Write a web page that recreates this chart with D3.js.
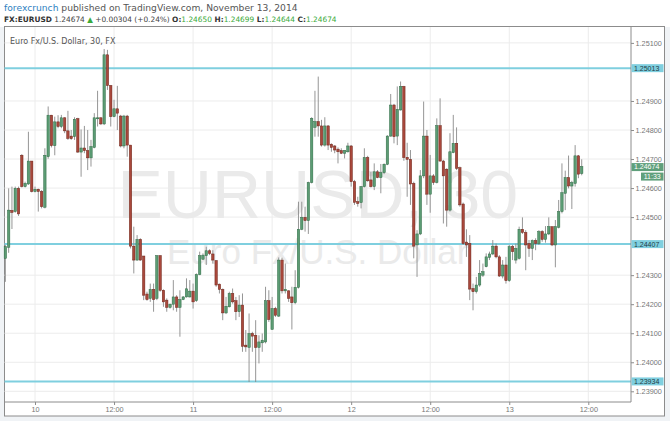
<!DOCTYPE html>
<html><head><meta charset="utf-8">
<script src="https://cdn.jsdelivr.net/npm/d3@7"></script>
<style>html,body{margin:0;padding:0;background:#fff;} svg{display:block;}</style>
</head><body>
<svg id="c" width="670" height="421"></svg>
<script>
// ---- data (30-min candles, EUR/USD, from 2014-11-09 19:30 UTC) ----
const startTime = "2014-11-09T19:30:00Z";
const open = [
1.24358,1.24396,1.24523,1.24519,1.24599,1.24713,1.24605,1.24614,1.24693,1.24588,
1.24596,1.24588,1.24534,1.24708,1.24851,1.24746,1.24828,1.24812,1.24842,1.24797,
1.24779,1.24777,1.24839,1.24724,1.24738,1.24729,1.24704,1.24740,1.24839,1.24842,
1.24821,1.25059,1.24953,1.24846,1.24873,1.24848,1.24745,1.24848,1.24748,1.24400,
1.24352,1.24423,1.24366,1.24235,1.24220,1.24251,1.24220,1.24367,1.24248,1.24214,
1.24189,1.24200,1.24225,1.24189,1.24216,1.24225,1.24225,1.24245,1.24212,1.24302,
1.24355,1.24367,1.24384,1.24373,1.24350,1.24269,1.24251,1.24170,1.24191,1.24237,
1.24212,1.24174,1.24197,1.24059,1.24051,1.24099,1.24093,1.24051,1.24067,1.24070,
1.24212,1.24113,1.24185,1.24159,1.24352,1.24246,1.24246,1.24225,1.24205,1.24258,
1.24458,1.24499,1.24488,1.24619,1.24809,1.24829,1.24814,1.24748,1.24814,1.24751,
1.24745,1.24734,1.24729,1.24720,1.24725,1.24745,1.24622,1.24553,1.24550,1.24605,
1.24705,1.24628,1.24605,1.24656,1.24636,1.24653,1.24682,1.24779,1.24886,1.24779,
1.24869,1.24950,1.24706,1.24699,1.24616,1.24404,1.24442,1.24642,1.24779,1.24579,
1.24642,1.24619,1.24815,1.24693,1.24665,1.24524,1.24722,1.24754,1.24670,1.24545,
1.24414,1.24409,1.24254,1.24243,1.24266,1.24300,1.24329,1.24361,1.24373,1.24400,
1.24363,1.24297,1.24335,1.24281,1.24398,1.24352,1.24358,1.24458,1.24447,1.24409,
1.24392,1.24419,1.24409,1.24450,1.24423,1.24442,1.24467,1.24404,1.24465,1.24519,
1.24582,1.24636,1.24607,1.24616,1.24711,1.24650];
const high = [
1.24404,1.24599,1.24605,1.24605,1.24605,1.24717,1.24622,1.24794,1.24693,1.24605,
1.24598,1.24593,1.24737,1.24881,1.24852,1.24846,1.24851,1.24852,1.24844,1.24866,
1.24800,1.24844,1.24842,1.24802,1.24814,1.24800,1.24766,1.24858,1.24935,1.24844,
1.25079,1.25076,1.24955,1.24904,1.24952,1.24852,1.24852,1.24852,1.24748,1.24467,
1.24438,1.24427,1.24366,1.24243,1.24271,1.24271,1.24369,1.24369,1.24251,1.24220,
1.24202,1.24283,1.24231,1.24248,1.24228,1.24289,1.24283,1.24271,1.24306,1.24381,
1.24375,1.24398,1.24389,1.24386,1.24352,1.24271,1.24254,1.24225,1.24243,1.24254,
1.24225,1.24231,1.24237,1.24111,1.24168,1.24105,1.24145,1.24093,1.24099,1.24260,
1.24248,1.24225,1.24191,1.24361,1.24360,1.24340,1.24248,1.24260,1.24317,1.24553,
1.24553,1.24536,1.24622,1.24844,1.24935,1.24984,1.24835,1.24844,1.24817,1.24754,
1.24748,1.24740,1.24737,1.24731,1.24756,1.24748,1.24628,1.24570,1.24607,1.24737,
1.24711,1.24656,1.24685,1.24662,1.24683,1.24685,1.24782,1.24924,1.24890,1.24950,
1.24967,1.24952,1.24756,1.24731,1.24622,1.24455,1.24662,1.24898,1.24800,1.24714,
1.24648,1.24840,1.24909,1.24697,1.24668,1.24789,1.24852,1.24809,1.24674,1.24550,
1.24458,1.24438,1.24271,1.24294,1.24352,1.24340,1.24375,1.24381,1.24421,1.24409,
1.24369,1.24352,1.24363,1.24404,1.24404,1.24409,1.24467,1.24499,1.24455,1.24421,
1.24423,1.24427,1.24455,1.24455,1.24469,1.24499,1.24467,1.24490,1.24559,1.24685,
1.24660,1.24712,1.24625,1.24748,1.24714,1.24699];
const low = [
1.24277,1.24377,1.24459,1.24515,1.24504,1.24602,1.24602,1.24611,1.24585,1.24585,
1.24519,1.24530,1.24530,1.24701,1.24740,1.24713,1.24806,1.24806,1.24789,1.24766,
1.24766,1.24766,1.24721,1.24639,1.24720,1.24662,1.24674,1.24737,1.24812,1.24817,
1.24817,1.24938,1.24812,1.24844,1.24800,1.24740,1.24737,1.24708,1.24392,1.24306,
1.24350,1.24350,1.24214,1.24212,1.24208,1.24174,1.24214,1.24243,1.24191,1.24174,
1.24185,1.24179,1.24174,1.24088,1.24214,1.24223,1.24223,1.24185,1.24208,1.24300,
1.24352,1.24335,1.24369,1.24340,1.24260,1.24237,1.24145,1.24166,1.24189,1.24202,
1.24145,1.24156,1.24036,1.24036,1.23932,1.24036,1.23932,1.23996,1.24036,1.24065,
1.24139,1.24113,1.24156,1.24156,1.24237,1.24237,1.24208,1.24113,1.24200,1.24254,
1.24455,1.24450,1.24442,1.24616,1.24777,1.24777,1.24743,1.24743,1.24731,1.24725,
1.24720,1.24685,1.24717,1.24702,1.24722,1.24605,1.24542,1.24536,1.24530,1.24602,
1.24622,1.24602,1.24593,1.24634,1.24582,1.24648,1.24679,1.24777,1.24754,1.24748,
1.24867,1.24694,1.24570,1.24542,1.24358,1.24294,1.24438,1.24634,1.24542,1.24515,
1.24611,1.24616,1.24691,1.24478,1.24467,1.24519,1.24720,1.24662,1.24536,1.24404,
1.24363,1.24214,1.24179,1.24237,1.24260,1.24294,1.24327,1.24352,1.24369,1.24358,
1.24294,1.24289,1.24271,1.24277,1.24352,1.24340,1.24354,1.24442,1.24317,1.24363,
1.24352,1.24386,1.24404,1.24415,1.24412,1.24438,1.24400,1.24327,1.24461,1.24513,
1.24524,1.24599,1.24528,1.24605,1.24634,1.24644];
const close = [
1.24398,1.24524,1.24516,1.24599,1.24511,1.24605,1.24616,1.24693,1.24588,1.24596,
1.24588,1.24536,1.24713,1.24851,1.24746,1.24828,1.24812,1.24842,1.24797,1.24771,
1.24770,1.24837,1.24724,1.24738,1.24729,1.24704,1.24743,1.24842,1.24842,1.24821,
1.25059,1.24953,1.24846,1.24873,1.24858,1.24745,1.24848,1.24748,1.24400,1.24352,
1.24423,1.24352,1.24231,1.24216,1.24251,1.24216,1.24367,1.24248,1.24208,1.24189,
1.24200,1.24225,1.24189,1.24216,1.24225,1.24253,1.24245,1.24208,1.24302,1.24367,
1.24369,1.24384,1.24375,1.24352,1.24266,1.24251,1.24170,1.24193,1.24237,1.24208,
1.24174,1.24197,1.24055,1.24053,1.24099,1.24090,1.24051,1.24070,1.24076,1.24212,
1.24147,1.24185,1.24162,1.24352,1.24246,1.24251,1.24220,1.24205,1.24258,1.24458,
1.24499,1.24488,1.24619,1.24840,1.24829,1.24814,1.24748,1.24814,1.24748,1.24740,
1.24731,1.24725,1.24720,1.24729,1.24745,1.24622,1.24551,1.24547,1.24605,1.24705,
1.24625,1.24605,1.24656,1.24636,1.24653,1.24682,1.24779,1.24886,1.24777,1.24871,
1.24950,1.24705,1.24699,1.24614,1.24400,1.24442,1.24642,1.24779,1.24579,1.24642,
1.24619,1.24815,1.24693,1.24642,1.24524,1.24725,1.24754,1.24668,1.24542,1.24409,
1.24404,1.24252,1.24243,1.24266,1.24306,1.24312,1.24363,1.24373,1.24400,1.24363,
1.24297,1.24335,1.24281,1.24398,1.24381,1.24392,1.24458,1.24447,1.24404,1.24392,
1.24419,1.24409,1.24450,1.24423,1.24442,1.24467,1.24404,1.24467,1.24519,1.24584,
1.24636,1.24607,1.24619,1.24711,1.24648,1.24674];

const levels = [1.25013, 1.24407, 1.23934];
const priceTicks = [1.251, 1.249, 1.248, 1.247, 1.246, 1.245, 1.243, 1.242, 1.241, 1.240, 1.239];
const timeTicks = ["2014-11-10T00:00:00Z","2014-11-10T12:00:00Z","2014-11-11T00:00:00Z","2014-11-11T12:00:00Z",
                   "2014-11-12T00:00:00Z","2014-11-12T12:00:00Z","2014-11-13T00:00:00Z","2014-11-13T12:00:00Z"];
const timeLabels = ["10","12:00","11","12:00","12","12:00","13","12:00"];
const lastPrice = 1.24674;
const countdown = "11:33";

// ---- build ----
const svg = d3.select("#c");
const W = 670, H = 421;
const P = {l: 4.5, r: 631, t: 27, b: 402, fr: 664.5, fb: 416};
const x = d3.scaleUtc()
  .domain([new Date("2014-11-10T00:00:00Z"), new Date("2014-11-13T12:00:00Z")])
  .range([35, 588.3]);
const y = d3.scaleLinear().domain([1.239, 1.251]).range([391.3, 42.9]);
const t0 = new Date(startTime).getTime();
const data = open.map((o, i) => ({
  t: new Date(t0 + i * 30 * 60 * 1000), o, h: high[i], l: low[i], c: close[i]
}));

// background
svg.append("rect").attr("x", 0).attr("y", 0).attr("width", W).attr("height", H).attr("fill", "#fff");
svg.append("rect").attr("x", 0).attr("y", P.t).attr("width", W).attr("height", H - P.t).attr("fill", "#f0f3f6");
svg.append("rect").attr("x", P.l).attr("y", P.t - 0.5).attr("width", P.fr - P.l).attr("height", P.fb - P.t + 0.5)
  .attr("fill", "#fff").attr("stroke", "#8c8c8c").attr("stroke-width", 1);

// grid
const grid = svg.append("g");
grid.selectAll(".hg").data(priceTicks).join("line")
  .attr("x1", P.l).attr("x2", P.r).attr("y1", d => y(d)).attr("y2", d => y(d))
  .attr("stroke", "#ececec").attr("stroke-width", 1);
grid.selectAll(".vg").data(timeTicks).join("line")
  .attr("x1", d => x(new Date(d))).attr("x2", d => x(new Date(d)))
  .attr("y1", P.t).attr("y2", P.b).attr("stroke", "#ececec").attr("stroke-width", 1);

// watermark
const cx = (P.l + P.r) / 2;
svg.append("text").attr("x", cx).attr("y", 218).attr("text-anchor", "middle")
  .attr("font-family", "Liberation Sans, Arial, sans-serif").attr("font-size", 68)
  .attr("fill", "#eaeaea").text("EURUSD, 30");
svg.append("text").attr("x", cx).attr("y", 264).attr("text-anchor", "middle")
  .attr("font-family", "Liberation Sans, Arial, sans-serif").attr("font-size", 35)
  .attr("fill", "#eaeaea").text("Euro Fx/U.S. Dollar");

// subtitle
svg.append("text").attr("x", 10).attr("y", 43.5)
  .attr("font-family", "DejaVu Sans, sans-serif").attr("font-size", 8)
  .attr("fill", "#555").text("Euro Fx/U.S. Dollar, 30, FX");

// level lines
svg.append("g").selectAll("line").data(levels).join("line")
  .attr("x1", P.l).attr("x2", P.r).attr("y1", d => y(d)).attr("y2", d => y(d))
  .attr("stroke", "#7fcfdf").attr("stroke-width", 2);

// candles
const cg = svg.append("g");
const bw = 2.4;
cg.selectAll(".w").data(data).join("line")
  .attr("x1", d => x(d.t)).attr("x2", d => x(d.t))
  .attr("y1", d => y(d.h)).attr("y2", d => y(d.l))
  .attr("stroke", "#8a8a8a").attr("stroke-width", 0.9);
cg.selectAll(".b").data(data).join("rect")
  .attr("x", d => x(d.t) - bw / 2).attr("width", bw)
  .attr("y", d => y(Math.max(d.o, d.c)))
  .attr("height", d => Math.max(1, Math.abs(y(d.o) - y(d.c))))
  .attr("fill", d => d.c >= d.o ? "#5c9c74" : "#a9483c")
  .attr("stroke", d => d.c >= d.o ? "#2f6b45" : "#6e2419")
  .attr("stroke-width", 0.5);

// price axis
svg.append("line").attr("x1", P.r).attr("x2", P.r).attr("y1", P.t).attr("y2", P.b)
  .attr("stroke", "#8c8c8c");
const ya = svg.append("g").attr("transform", `translate(${P.r},0)`)
  .call(d3.axisRight(y).tickValues(priceTicks).tickSize(3).tickPadding(1.5).tickFormat(d3.format(".5f")));
ya.select(".domain").remove();
ya.selectAll(".tick line").attr("stroke", "#8c8c8c");
ya.selectAll(".tick text").attr("font-family", "Liberation Sans, Arial, sans-serif")
  .attr("font-size", 7.3).attr("fill", "#777");

// time axis
svg.append("line").attr("x1", P.l).attr("x2", P.r).attr("y1", P.b).attr("y2", P.b)
  .attr("stroke", "#8c8c8c");
const xa = svg.append("g").attr("transform", `translate(0,${P.b})`)
  .call(d3.axisBottom(x).tickValues(timeTicks.map(d => new Date(d))).tickSize(3).tickPadding(2)
    .tickFormat((d, i) => timeLabels[i]));
xa.select(".domain").remove();
xa.selectAll(".tick line").attr("stroke", "#8c8c8c");
xa.selectAll(".tick text").attr("font-family", "Liberation Sans, Arial, sans-serif")
  .attr("font-size", 7.3).attr("fill", "#777");

// level tags
const tags = svg.append("g");
levels.forEach(v => {
  tags.append("rect").attr("x", P.r + 0.5).attr("y", y(v) - 4).attr("width", 32).attr("height", 8)
    .attr("fill", "#7fcfdf");
  tags.append("text").attr("x", P.r + 3).attr("y", y(v) + 2.4)
    .attr("font-family", "Liberation Sans, Arial, sans-serif").attr("font-size", 7)
    .attr("fill", "#1f3b45").text(d3.format(".5f")(v));
});
// last price tag
const ly = y(lastPrice);
tags.append("rect").attr("x", P.r + 0.5).attr("y", ly - 3.5).attr("width", 32).attr("height", 8).attr("fill", "#5f9f7b");
tags.append("text").attr("x", P.r + 3).attr("y", ly + 2.9)
  .attr("font-family", "Liberation Sans, Arial, sans-serif").attr("font-size", 7)
  .attr("fill", "#fff").text(d3.format(".5f")(lastPrice));
tags.append("rect").attr("x", 641).attr("y", ly + 6).attr("width", 22.5).attr("height", 8).attr("fill", "#5f9f7b");
tags.append("text").attr("x", 652.2).attr("y", ly + 12.4).attr("text-anchor", "middle")
  .attr("font-family", "Liberation Sans, Arial, sans-serif").attr("font-size", 7)
  .attr("fill", "#fff").text(countdown);

// header
function fit(sel, target) {
  const w = sel.node().getComputedTextLength();
  const fs = parseFloat(sel.attr("font-size"));
  sel.attr("font-size", fs * target / w);
}
const h1 = svg.append("text").attr("x", 4).attr("y", 10.5)
  .attr("font-family", "DejaVu Sans, sans-serif").attr("font-size", 9);
h1.append("tspan").attr("fill", "#2f7fc1").text("forexcrunch");
h1.append("tspan").attr("fill", "#555").text(" published on TradingView.com, November 13, 2014");
fit(h1, 294);

const green = "#3aaa3a";
const h2 = svg.append("text").attr("x", 4).attr("y", 22)
  .attr("font-family", "DejaVu Sans, sans-serif").attr("font-size", 8.5).attr("fill", "#333");
h2.append("tspan").attr("font-weight", "bold").text("FX:EURUSD");
h2.append("tspan").attr("fill", "#444").text(" 1.24674 ");
h2.append("tspan").attr("fill", green).text("▲");
h2.append("tspan").attr("fill", "#444").text(" +0.00304 (+0.24%) ");
[["O:", "1.24650"], ["H:", "1.24699"], ["L:", "1.24644"], ["C:", "1.24674"]].forEach((p, i) => {
  h2.append("tspan").attr("font-weight", "bold").text((i ? " " : "") + p[0]);
  h2.append("tspan").attr("fill", green).text(p[1]);
});
fit(h2, 333);
</script>
</body></html>
